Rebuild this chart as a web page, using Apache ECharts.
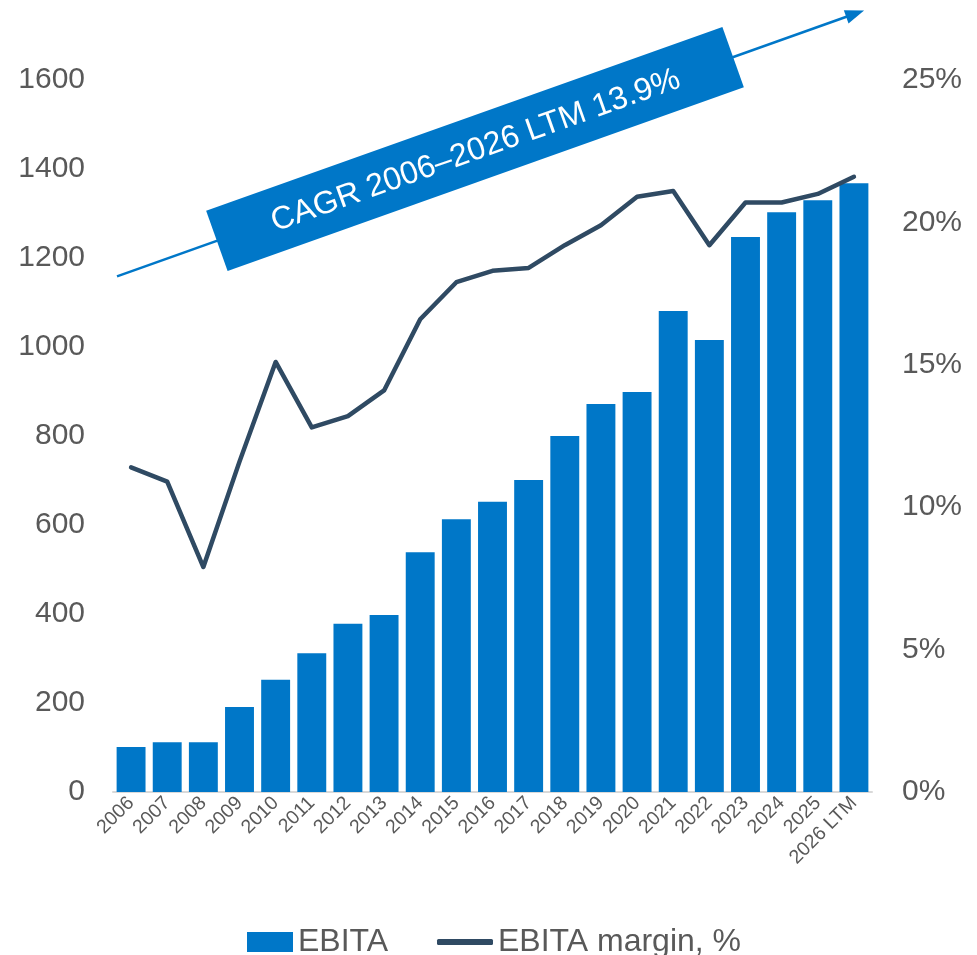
<!DOCTYPE html>
<html>
<head>
<meta charset="UTF-8">
<title>EBITA</title>
<script src="https://cdn.jsdelivr.net/npm/echarts@6/dist/echarts.min.js"></script>
<style>
	html, body { margin: 0; padding: 0; background: #fff; }
	#main { width: 977px; height: 955px; }
</style>
</head>
<body>
<div id="main"></div>
<script type="text/javascript">
	// data
	var years = ['2006', '2007', '2008', '2009', '2010', '2011', '2012', '2013', '2014', '2015', '2016',
		'2017', '2018', '2019', '2020', '2021', '2022', '2023', '2024', '2025', '2026 LTM'];
	var ebita = [101, 112, 112, 191, 252, 312, 378, 398, 539, 613, 652,
		701, 800, 872, 899, 1081, 1016, 1247, 1303, 1330, 1368];
	var margin = [11.4, 10.9, 7.9, 11.6, 15.1, 12.8, 13.2, 14.1, 16.6, 17.9, 18.3,
		18.4, 19.2, 19.9, 20.9, 21.1, 19.2, 20.7, 20.7, 21.0, 21.6];
	var leftTicks = [0, 1600, 200];   // min, max, step
	var rightTicks = [0, 25, 5];
	var cagrText = 'CAGR 2006\u20132026 LTM 13.9%';

	var blue = '#0077C8';
	var navy = '#2F4A63';
	var grey = '#595959';
	var font = 'Liberation Sans, Arial, sans-serif';

	var legendText = { fontSize: 32, color: grey, lineHeight: 32, fontFamily: font };

	var myChart = echarts.init(document.getElementById('main'));

	myChart.setOption({
		animation: false,
		textStyle: { fontFamily: font },
		grid: { left: 113, right: 105, top: 80, bottom: 163 },
		// two legends so each icon keeps its own size
		legend: [{
			left: 242,
			top: 921,
			itemWidth: 46,
			itemHeight: 20,
			textStyle: legendText,
			data: [{ name: 'EBITA', icon: 'rect' }]
		}, {
			left: 432,
			top: 921,
			itemWidth: 56,
			itemHeight: 6,
			textStyle: legendText,
			data: [{ name: 'EBITA margin, %', icon: 'roundRect', itemStyle: { color: navy } }]
		}],
		xAxis: {
			type: 'category',
			data: years,
			axisLine: { lineStyle: { color: '#d9d9d9', width: 2 } },
			axisTick: { show: false },
			axisLabel: { interval: 0, rotate: 45, fontSize: 19.5, color: grey, margin: 8 }
		},
		yAxis: [{
			type: 'value',
			min: leftTicks[0],
			max: leftTicks[1],
			interval: leftTicks[2],
			splitLine: { show: false },
			axisLabel: { fontSize: 30, color: grey, margin: 28, formatter: function(v) { return String(v); } }
		}, {
			type: 'value',
			min: rightTicks[0],
			max: rightTicks[1],
			interval: rightTicks[2],
			splitLine: { show: false },
			axisLabel: { fontSize: 30, color: grey, margin: 30, formatter: '{value}%' }
		}],
		series: [{
			name: 'EBITA',
			type: 'bar',
			data: ebita,
			barCategoryGap: '20%',
			itemStyle: { color: blue }
		}, {
			name: 'EBITA margin, %',
			type: 'line',
			yAxisIndex: 1,
			data: margin,
			symbol: 'none',
			lineStyle: { color: navy, width: 4.5, cap: 'round', join: 'round' },
			itemStyle: { color: navy }
		}],
		graphic: [{
			type: 'group',
			x: 475,
			y: 149,
			rotation: 0.342,
			children: [{
				type: 'line',
				shape: { x1: -380, y1: 0, x2: 398, y2: 0 },
				style: { stroke: blue, lineWidth: 2.5 }
			}, {
				type: 'polygon',
				shape: { points: [[394, -7], [413, 0], [394, 7]] },
				style: { fill: blue }
			}, {
				type: 'rect',
				shape: { x: -274, y: -32, width: 548, height: 64 },
				style: { fill: blue }
			}, {
				type: 'text',
				x: 0,
				y: 2,
				style: {
					text: cagrText,
					fill: '#ffffff',
					font: '32px ' + font,
					align: 'center',
					verticalAlign: 'middle',
					textAlign: 'center',
					textVerticalAlign: 'middle'
				}
			}]
		}]
	});
</script>
</body>
</html>
